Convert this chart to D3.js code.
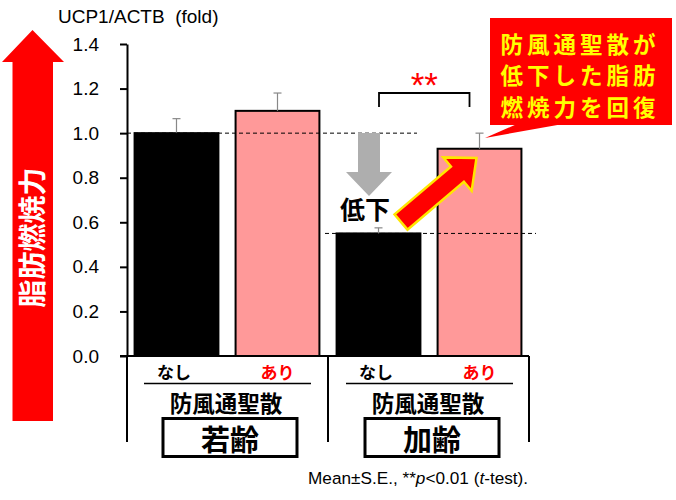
<!DOCTYPE html>
<html><head><meta charset="utf-8">
<script src="https://cdn.jsdelivr.net/npm/d3@7/dist/d3.min.js"></script>
<style>
body{margin:0;background:#fff;}
svg{display:block;}
.jp{font-family:"Noto Sans CJK JP","Noto Sans",sans-serif;font-weight:700;}
.lt{font-family:"Liberation Sans",Arial,sans-serif;}
</style></head>
<body><svg id="c" width="676" height="500"></svg>
<script>
const groups = ["若齢", "加齢"];
const treatments = ["なし", "あり"];
const treatmentTitle = "防風通聖散";
const values = [1.00, 1.10, 0.55, 0.93];
const errors = [0.065, 0.08, 0.025, 0.07];
const yTicks = [0.0, 0.2, 0.4, 0.6, 0.8, 1.0, 1.2, 1.4];
const yTitle = "UCP1/ACTB  (fold)";
const calloutLines = ["防風通聖散が", "低下した脂肪", "燃焼力を回復"];
const sideLabel = "脂肪燃焼力";
const dropLabel = "低下";

const svg = d3.select("#c");
const x = d3.scaleBand().domain(d3.range(values.length)).range([127, 529]).paddingInner(0.17).paddingOuter(0.075);
const y = d3.scaleLinear().domain([0, 1.4]).range([356, 44]);
const fillFor = i => (i % 2 === 0 ? "#000000" : "#FF9999");

// Left big red arrow
const ax0 = 12.5, ax1 = 53, axc = 32.5;
svg.append("path")
  .attr("d", `M${ax0},${y(0) + 65} L${ax0},62 L2,62 L${axc},30 L64,62 L${ax1},62 L${ax1},${y(0) + 65} Z`)
  .attr("fill", "#FF0000");
svg.append("text").attr("class", "jp")
  .attr("transform", `translate(31,237.5) rotate(-90)`)
  .attr("text-anchor", "middle").attr("dominant-baseline", "central")
  .attr("font-size", 28).attr("fill", "#fff").text(sideLabel);

// Y title
svg.append("text").attr("class", "lt").attr("x", 58).attr("y", 22.5)
  .attr("font-size", 19).style("white-space", "pre").attr("fill", "#000").text(yTitle);

// Bars
svg.selectAll("rect.bar").data(values).join("rect").attr("class", "bar")
  .attr("x", (d, i) => x(i)).attr("width", x.bandwidth())
  .attr("y", d => y(d)).attr("height", d => y(0) - y(d))
  .attr("fill", (d, i) => fillFor(i)).attr("stroke", "#000").attr("stroke-width", 2);

// Error bars
const eb = svg.append("g").attr("stroke", "#888").attr("stroke-width", 1.2);
values.forEach((v, i) => {
  const cx = x(i) + x.bandwidth() / 2;
  eb.append("line").attr("x1", cx).attr("x2", cx).attr("y1", y(v)).attr("y2", y(v + errors[i]));
  eb.append("line").attr("x1", cx - 4).attr("x2", cx + 4).attr("y1", y(v + errors[i])).attr("y2", y(v + errors[i]));
});

// Dashed reference lines
svg.append("line").attr("x1", 127).attr("x2", 417).attr("y1", y(values[0])).attr("y2", y(values[0]))
  .attr("stroke", "#000").attr("stroke-width", 1).attr("stroke-dasharray", "4,3");
svg.append("line").attr("x1", 325).attr("x2", 536).attr("y1", y(values[2])).attr("y2", y(values[2]))
  .attr("stroke", "#000").attr("stroke-width", 1).attr("stroke-dasharray", "4,3");

// Y axis
const yAxis = d3.axisLeft(y).tickValues(yTicks).tickFormat(d3.format(".1f")).tickSize(7).tickSizeOuter(0).tickPadding(21);
const ga = svg.append("g").attr("transform", "translate(127,0)").call(yAxis);
ga.select(".domain").attr("stroke", "#000").attr("stroke-width", 2);
ga.selectAll(".tick line").attr("stroke", "#000").attr("stroke-width", 2);
ga.selectAll(".tick text").attr("class", "lt").attr("font-size", 19).attr("fill", "#000");

// baseline & separators
svg.append("line").attr("x1", 120).attr("x2", 529).attr("y1", y(0)).attr("y2", y(0)).attr("stroke", "#000").attr("stroke-width", 2);
const sepX = [127, (x(1) + x.bandwidth() + x(2)) / 2, 529];
sepX.forEach(sx => {
  svg.append("line").attr("x1", sx).attr("x2", sx).attr("y1", y(0)).attr("y2", 442).attr("stroke", "#000").attr("stroke-width", 2);
});

// Category labels
values.forEach((v, i) => {
  const cx = x(i) + x.bandwidth() / 2 + (i % 2 === 0 ? -2.5 : 0);
  svg.append("text").attr("class", "jp").attr("x", cx).attr("y", 371)
    .attr("text-anchor", "middle").attr("dominant-baseline", "central")
    .attr("font-size", 17).attr("fill", i % 2 === 0 ? "#000" : "#FF0000").text(treatments[i % 2]);
});
groups.forEach((g, gi) => {
  const gc = (x(gi * 2) + x(gi * 2 + 1) + x.bandwidth()) / 2;
  svg.append("line").attr("x1", gc - 83).attr("x2", gc + 84).attr("y1", 383.5).attr("y2", 383.5)
    .attr("stroke", "#000").attr("stroke-width", 1.5);
  svg.append("text").attr("class", "jp").attr("x", gc - 1).attr("y", 402)
    .attr("text-anchor", "middle").attr("dominant-baseline", "central")
    .attr("font-size", 22.5).attr("fill", "#000").text(treatmentTitle);
  svg.append("rect").attr("x", gc - 64).attr("y", 418.5).attr("width", 134).attr("height", 38)
    .attr("fill", "#fff").attr("stroke", "#000").attr("stroke-width", 3);
  svg.append("text").attr("class", "jp").attr("x", gc + 3).attr("y", 438)
    .attr("text-anchor", "middle").attr("dominant-baseline", "central")
    .attr("font-size", 29).attr("fill", "#000").text(g);
});

// Significance bracket
const bL = x(2) + x.bandwidth() / 2 + 0.5, bR = x(3) + x.bandwidth() / 2 - 10;
svg.append("path").attr("d", `M${bL},107 L${bL},93 L${bR},93 L${bR},107`)
  .attr("fill", "none").attr("stroke", "#000").attr("stroke-width", 1.8);
svg.append("text").attr("class", "lt").attr("x", (bL + bR) / 2).attr("y", 97)
  .attr("text-anchor", "middle").attr("font-size", 35).attr("fill", "#FF0000").text("**");

// Gray down arrow
svg.append("path").attr("d", "M358,133 L380,133 L380,172 L392,172 L369,196 L346,172 L358,172 Z").attr("fill", "#AEAEAE");
svg.append("text").attr("class", "jp").attr("x", 365).attr("y", 208)
  .attr("text-anchor", "middle").attr("dominant-baseline", "central")
  .attr("font-size", 25).attr("fill", "#000").text(dropLabel);

// Red up-right arrow
(function () {
  const tx = 401, ty = 222, hx = 476.5, hy = 158;
  const ang = Math.atan2(hy - ty, hx - tx) * 180 / Math.PI;
  const L = Math.hypot(hx - tx, hy - ty), sw = 10, hl = 25, hw = 22;
  svg.append("path")
    .attr("transform", `translate(${tx},${ty}) rotate(${ang})`)
    .attr("d", `M0,${-sw} L${L - hl},${-sw} L${L - hl},${-hw} L${L},0 L${L - hl},${hw} L${L - hl},${sw} L0,${sw} Z`)
    .attr("fill", "#FF0000").attr("stroke", "#FFE600").attr("stroke-width", 2.5).attr("stroke-linejoin", "miter");
})();

// Callout
svg.append("path").attr("d", "M517,124 L563,124 L485,138 Z").attr("fill", "#FF0000");
svg.append("rect").attr("x", 490).attr("y", 18).attr("width", 182).attr("height", 107).attr("fill", "#FF0000");
calloutLines.forEach((t, i) => {
  svg.append("text").attr("class", "jp").attr("x", 580).attr("y", 42.5 + i * 31.5)
    .attr("text-anchor", "middle").attr("dominant-baseline", "central")
    .attr("font-size", 22.5).attr("letter-spacing", 4).attr("fill", "#FFFF00").text(t);
});

// Footnote
const fn = svg.append("text").attr("class", "lt").attr("x", 308).attr("y", 484).attr("font-size", 17.2).attr("fill", "#000");
fn.append("tspan").text("Mean±S.E., **");
fn.append("tspan").attr("font-style", "italic").text("p");
fn.append("tspan").text("<0.01 (");
fn.append("tspan").attr("font-style", "italic").text("t");
fn.append("tspan").text("-test).");
</script></body></html>
